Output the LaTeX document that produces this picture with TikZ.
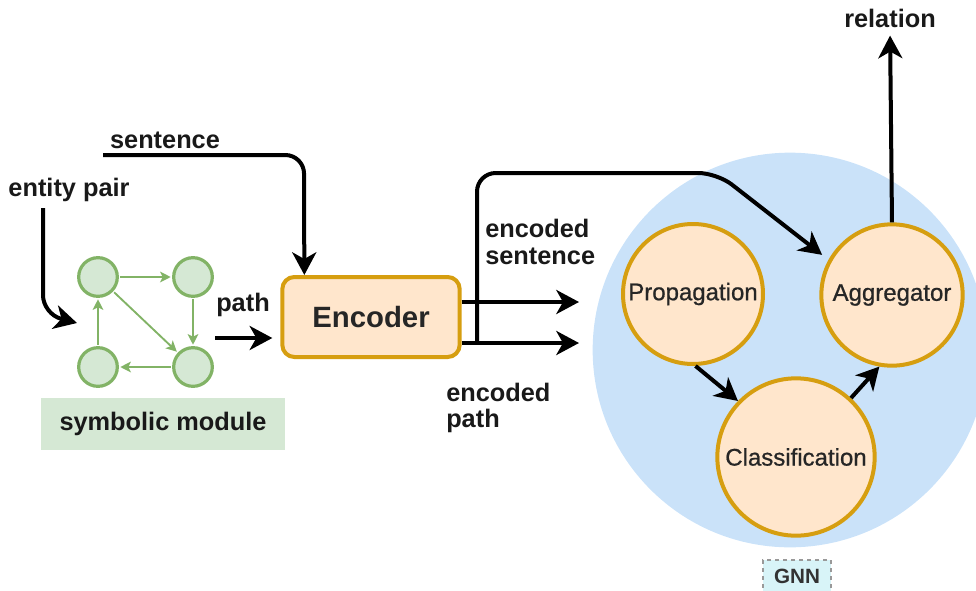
\documentclass[tikz,border=0pt]{standalone}
\usepackage{fontspec}
\setmainfont{Liberation Sans}
\newfontfamily\unitfont[FakeBold=0.8]{Liberation Sans}
\usetikzlibrary{arrows.meta,shapes.geometric,calc}

\definecolor{orangefill}{HTML}{FFE6CC}
\definecolor{orangeline}{HTML}{D69E10}
\definecolor{gnnblue}{HTML}{CAE2F9}
\definecolor{greenfill}{HTML}{D5E8D4}
\definecolor{greenline}{HTML}{82B366}
\definecolor{tagfill}{HTML}{D8F4F8}

\tikzset{
  lbl/.style={font=\fontsize{19}{22}\selectfont\bfseries, inner sep=0pt, text=black!90},
  arr/.style={line width=3pt, -{Stealth[length=17pt,width=18pt,inset=5pt]}, black},
  gnnunit/.style={circle, draw=orangeline, line width=3pt, fill=orangefill, inner sep=0pt,
    font=\unitfont\fontsize{18}{20}\selectfont, text=black!85},
  gnode/.style={circle, draw=greenline, line width=2.4pt, fill=greenfill, minimum size=29pt, inner sep=0pt},
  garr/.style={draw=greenline, line width=1.4pt, -{Stealth[length=8pt,width=8pt,inset=2pt]}, shorten >=1pt, shorten <=1pt},
}

\begin{document}
\begin{tikzpicture}[x=0.75pt,y=-0.75pt]
\useasboundingbox (0,0) rectangle (976,590);
\clip (0,0) rectangle (976,590);

% GNN background disc
\node[circle, fill=gnnblue, minimum size=296pt, inner sep=0pt] (gnnbg) at (790,350) {};

% GNN units
\node[gnnunit, minimum size=105pt] (prop) at (693,294) {Propagation};
\node[gnnunit, minimum size=106pt] (agg) at (892,295) {Aggregator};
\node[gnnunit, minimum size=118pt] (cls) at (796,457) {Classification};

% GNN tag
\node[draw=gray!80, dashed, line width=0.8pt, fill=tagfill, minimum width=51pt, minimum height=24pt,
  font=\fontsize{15.5}{17}\selectfont\bfseries, text=black!80] (gnntag) at (797,576) {GNN};

% Encoder
\node[draw=orangeline, line width=3pt, fill=orangefill, rounded corners=9pt,
  minimum width=133pt, minimum height=60pt, font=\fontsize{22}{24}\selectfont\bfseries, text=black!85]
  (enc) at (371,317) {Encoder};

% symbolic module
\node[gnode] (g1) at (98,277) {};
\node[gnode] (g2) at (193,277) {};
\node[gnode] (g3) at (98,367) {};
\node[gnode] (g4) at (193,367) {};
\draw[garr] (g1) -- (g2);
\draw[garr] (g2) -- (g4);
\draw[garr] (g1) -- (g4);
\draw[garr] (g4) -- (g3);
\draw[garr] (g3) -- (g1);
\node[fill=greenfill, minimum width=183pt, minimum height=39pt, lbl, inner sep=0pt] (symb) at (163,424) {symbolic module};

% text labels
\node[lbl] (sentlbl) at (165,140) {sentence};
\node[lbl] (entlbl) at (69,190) {entity pair};
\node[lbl] (pathlbl) at (243,305) {path};
\node[lbl, align=left, anchor=west] (enclbl) at (485,242) {encoded\\[-2pt]sentence};
\node[lbl, align=left, anchor=west] (encplbl) at (446,408) {encoded\\[-2pt]path};
\node[lbl] (rellbl) at (890,18) {relation};

% free ends of connectors
\coordinate (sentstart) at (103,155);
\coordinate (entstart) at (43,208);
\coordinate (entend) at (77,323);
\coordinate (pathstart) at (215,338);
\coordinate (sentout) at (579,302);
\coordinate (pathout) at (579,343);
\coordinate (branch) at (477,343);

% connectors
\draw[arr, rounded corners=14pt] (sentstart) -- (304,155) -- ([xshift=18pt]enc.north west);
\draw[arr, rounded corners=14pt] (entstart) -- (43,314) -- (entend);
\draw[arr, shorten >=6pt] (pathstart) -- (enc.west |- pathstart);
\draw[arr] (enc.east |- sentout) -- (sentout);
\draw[arr] (enc.east |- pathout) -- (pathout);
\draw[arr, rounded corners=14pt, shorten >=6pt] (branch) -- (477,173) -- (717,173) -- (agg.151);
\draw[arr] (prop.-88) -- (cls.136);
\draw[arr] (cls.47) -- (agg.-100);
\draw[arr, shorten >=6pt] (agg.north) -- (rellbl.south);
\end{tikzpicture}
\end{document}
